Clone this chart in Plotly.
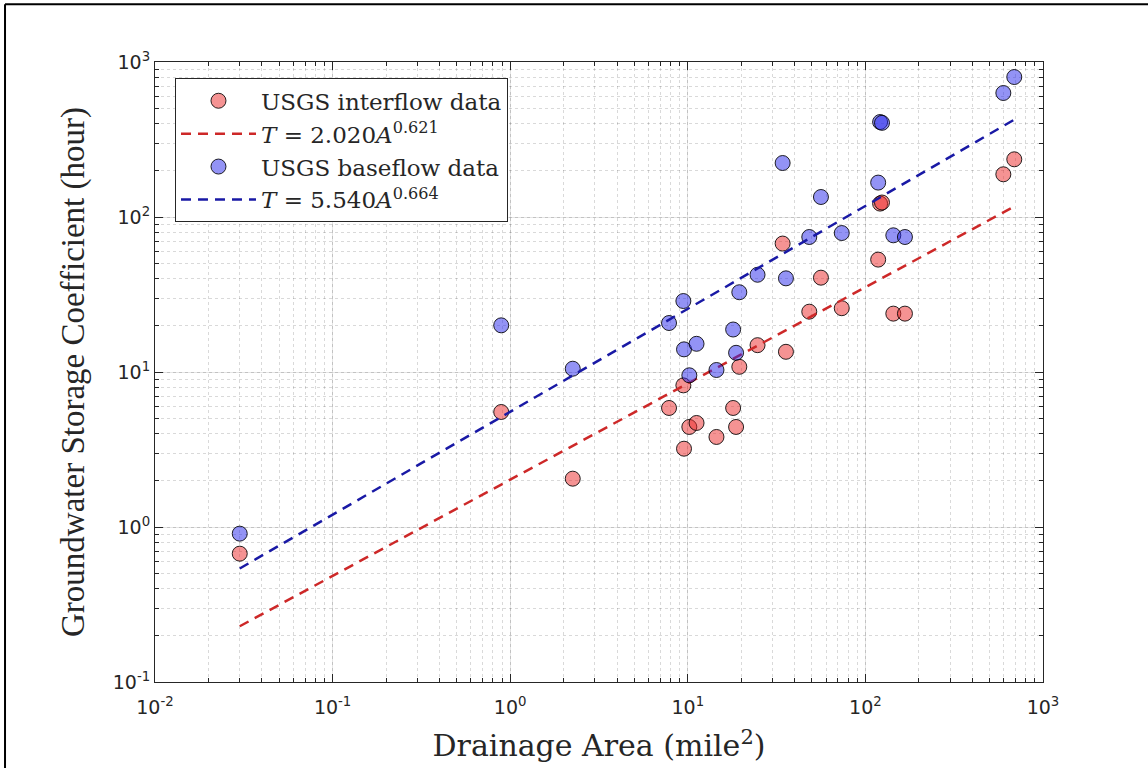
import numpy as np
import plotly.graph_objects as go

# ---- data ----
area = [0.03, 0.89, 2.25, 7.84, 9.44, 9.52, 10.2, 11.2, 14.5, 18.0, 18.7, 19.5,
        24.7, 34.2, 35.7, 48.3, 56.2, 73.6, 118, 121, 124, 143.6, 167, 598, 689]
interflow = [0.673, 5.52, 2.05, 5.86, 8.2, 3.2, 4.42, 4.69, 3.81, 5.86, 4.42, 10.8,
             14.9, 67.4, 13.5, 24.5, 40.6, 25.8, 53.1, 122, 124, 23.8, 23.8, 188.6, 235.6]
baseflow = [0.906, 20.0, 10.5, 20.7, 28.7, 14.0, 9.52, 15.2, 10.3, 18.8, 13.3, 32.7,
            42.4, 223, 40.2, 74.3, 134.6, 78.8, 166.7, 410, 405, 76.2, 74.3, 631, 800]

inter_coef, inter_exp = 2.020, 0.621
base_coef, base_exp = 5.540, 0.664

x_tickvals = [0.01, 0.1, 1, 10, 100, 1000]
x_ticktext = ["10<sup>-2</sup>", "10<sup>-1</sup>", "10<sup>0</sup>",
              "10<sup>1</sup>", "10<sup>2</sup>", "10<sup>3</sup>"]
y_tickvals = [0.1, 1, 10, 100, 1000]
y_ticktext = ["10<sup>-1</sup>", "10<sup>0</sup>", "10<sup>1</sup>",
              "10<sup>2</sup>", "10<sup>3</sup>"]

# ---- fit lines over the data range ----
a_fit = np.logspace(np.log10(min(area)), np.log10(max(area)), 60)
t_inter = inter_coef * a_fit ** inter_exp
t_base = base_coef * a_fit ** base_exp

SERIF = "Liberation Serif, Times New Roman, serif"
WSERIF = "DejaVu Serif, serif"
SANS = "DejaVu Sans, Arial, sans-serif"
AXC = "#262626"

fig = go.Figure()
fig.add_trace(go.Scatter(
    x=area, y=interflow, mode="markers", name="USGS interflow data",
    marker=dict(size=15, color="rgba(235,40,40,0.5)",
                line=dict(color="rgba(0,0,0,0.85)", width=1))))
fig.add_trace(go.Scatter(
    x=a_fit, y=t_inter, mode="lines",
    name="<i>T</i> = 2.020<i>A</i><sup>0.621</sup>",
    line=dict(color="rgb(205,40,40)", width=2.5, dash="10px,7px")))
fig.add_trace(go.Scatter(
    x=area, y=baseflow, mode="markers", name="USGS baseflow data",
    marker=dict(size=15, color="rgba(40,40,235,0.5)",
                line=dict(color="rgba(0,0,0,0.85)", width=1))))
fig.add_trace(go.Scatter(
    x=a_fit, y=t_base, mode="lines",
    name="<i>T</i> = 5.540<i>A</i><sup>0.664</sup>",
    line=dict(color="rgb(25,25,165)", width=2.5, dash="10px,7px")))

axis_common = dict(
    type="log", showline=True, linecolor=AXC, linewidth=1, mirror="ticks",
    ticks="inside", ticklen=8, tickcolor=AXC,
    showgrid=True, gridcolor="rgba(0,0,0,0.10)", gridwidth=1,
    zeroline=False, tickfont=dict(family=SANS, size=19, color=AXC),
    minor=dict(dtick="D1", ticks="inside", ticklen=4, tickcolor=AXC,
               showgrid=True, gridcolor="rgba(0,0,0,0.15)", griddash="dot"),
)

fig.update_layout(
    width=1148, height=768,
    margin=dict(l=155, r=105, t=62, b=86),
    paper_bgcolor="white", plot_bgcolor="white",
    xaxis=dict(range=[-2, 3], tickmode="array", tickvals=x_tickvals,
               ticktext=x_ticktext, ticklabelstandoff=8,
               title=dict(text="Drainage Area (mile<sup>2</sup>)",
                          font=dict(family=WSERIF, size=30, color=AXC),
                          standoff=18),
               **axis_common),
    yaxis=dict(range=[-1, 3], tickmode="array", tickvals=y_tickvals,
               ticktext=y_ticktext,
               title=dict(text="Groundwater Storage Coefficient (hour)",
                          font=dict(family=SERIF, size=33, color=AXC),
                          standoff=18),
               **axis_common),
    legend=dict(x=0.0225, y=0.9737, xanchor="left", yanchor="top",
                bgcolor="white", bordercolor=AXC, borderwidth=1,
                font=dict(family=WSERIF, size=23, color=AXC),
                itemwidth=75, tracegroupgap=0),
    showlegend=True,
    shapes=[
        dict(type="line", xref="paper", yref="paper",
             x0=-0.1689, x1=-0.1689, y0=1.0931, y1=-0.14,
             line=dict(color="black", width=2)),
        dict(type="line", xref="paper", yref="paper",
             x0=-0.1689, x1=1.12, y0=1.0931, y1=1.0931,
             line=dict(color="black", width=2)),
    ],
)

fig.write_html("out.html")
